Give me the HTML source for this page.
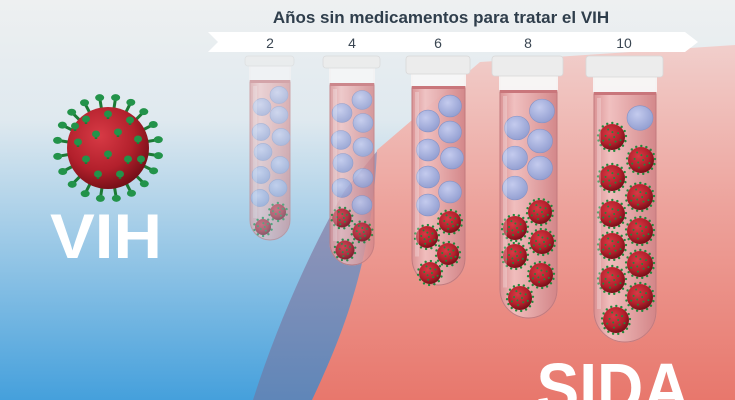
<!DOCTYPE html>
<html><head><meta charset="utf-8"><style>
html,body{margin:0;padding:0;width:735px;height:400px;overflow:hidden}
svg{display:block}
</style></head><body>
<svg id="s" width="735" height="400" viewBox="0 0 735 400" xmlns="http://www.w3.org/2000/svg" overflow="hidden">
<defs>
<linearGradient id="bg" x1="0" y1="0" x2="0" y2="1">
<stop offset="0" stop-color="#eef0f1"/><stop offset="0.3" stop-color="#dfe9ef"/><stop offset="1" stop-color="#45a0dc"/></linearGradient>
<linearGradient id="red" x1="0" y1="0" x2="0" y2="1">
<stop offset="0" stop-color="#f1cfcc"/><stop offset="0.45" stop-color="#eda39c"/><stop offset="1" stop-color="#e8776c"/></linearGradient>
<linearGradient id="pur" x1="0" y1="0" x2="0" y2="1">
<stop offset="0" stop-color="#a59ab8"/><stop offset="1" stop-color="#5f86b8"/></linearGradient>
<radialGradient id="vr" cx="0.4" cy="0.35" r="0.7">
<stop offset="0" stop-color="#d73a45"/><stop offset="0.6" stop-color="#b3202c"/><stop offset="1" stop-color="#6e0d15"/></radialGradient>
<radialGradient id="bl" cx="0.4" cy="0.35" r="0.7">
<stop offset="0" stop-color="#c4cbee"/><stop offset="1" stop-color="#919dd0"/></radialGradient>
<linearGradient id="liq" x1="0" y1="0" x2="1" y2="0">
<stop offset="0" stop-color="#d88c8e" stop-opacity="0.9"/><stop offset="0.25" stop-color="#f0bcbc" stop-opacity="0.85"/><stop offset="1" stop-color="#d07f82" stop-opacity="0.9"/></linearGradient>
</defs>
<rect width="735" height="400" fill="url(#bg)"/>
<path d="M253,400 C275,330 310,250 345,190 L378,150 L360,400 Z" fill="url(#pur)"/>
<path d="M312,400 C345,330 372,260 377,150 L480,62 L735,45 L735,400 Z" fill="url(#red)"/>
<text x="441" y="23" text-anchor="middle" font-family="Liberation Sans, sans-serif" font-weight="bold" font-size="17" fill="#2f3e4c">Años sin medicamentos para tratar el VIH</text>
<polygon points="208,32 685,32 698,42 685,52 208,52 218,42" fill="#ffffff"/>
<g font-family="Liberation Sans, sans-serif" font-size="14" fill="#3a4652" text-anchor="middle">
<text x="270" y="48">2</text><text x="352" y="48">4</text><text x="438" y="48">6</text><text x="528" y="48">8</text><text x="624" y="48">10</text></g>
<g id="tubes"></g>
<g id="big"></g>
<text x="106" y="258" text-anchor="middle" font-family="Liberation Sans, sans-serif" font-weight="bold" font-size="63" fill="#ffffff" textLength="112" lengthAdjust="spacingAndGlyphs">VIH</text>
<text x="613" y="412" text-anchor="middle" font-family="Liberation Sans, sans-serif" font-weight="bold" font-size="70" fill="#ffffff" textLength="153" lengthAdjust="spacingAndGlyphs">SIDA</text>
</svg>
<script>
var NS="http://www.w3.org/2000/svg";
function el(p,t,a){var e=document.createElementNS(NS,t);for(var k in a)e.setAttribute(k,a[k]);p.appendChild(e);return e;}
function virus(g,cx,cy,r){
  var n=Math.round(r*1.3);
  for(var i=0;i<n;i++){var a=i/n*6.283+0.3;el(g,'circle',{cx:cx+Math.cos(a)*(r+1),cy:cy+Math.sin(a)*(r+1),r:1.2,fill:'#1f8a3c'});}
  el(g,'circle',{cx:cx,cy:cy,r:r,fill:'url(#vr)'});
  var m=Math.round(r*0.8);
  for(var j=0;j<m;j++){var a2=j*2.4,d=r*0.75*Math.sqrt((j+0.5)/m);el(g,'circle',{cx:cx+Math.cos(a2)*d,cy:cy+Math.sin(a2)*d,r:1,fill:'#1f8a3c'});}
}
function blue(g,cx,cy,r){el(g,'ellipse',{cx:cx,cy:cy,rx:r,ry:r*0.95,fill:'url(#bl)',stroke:'#8593c6','stroke-width':0.6});}
var T=[
 {x0:250,x1:290,cx0:245,cx1:294,capB:66,neck:82,bot:240,op:0.6,rb:9,rv:8,
  b:[[279,95],[262,107],[279,115],[261,132],[281,137],[263,152],[280,165],[261,175],[278,188],[260,198]],v:[[278,212],[263,227]]},
 {x0:330,x1:374,cx0:323,cx1:380,capB:68,neck:85,bot:265,op:0.85,rb:10,rv:9.5,
  b:[[362,100],[342,113],[363,123],[341,140],[363,147],[343,163],[363,178],[342,188],[362,205]],v:[[342,218],[362,232],[345,250]]},
 {x0:412,x1:465,cx0:406,cx1:470,capB:74,neck:88,bot:285,op:1,rb:11.5,rv:11,
  b:[[450,106],[428,121],[450,132],[428,150],[452,158],[428,177],[450,192],[428,205]],v:[[450,222],[427,237],[448,254],[430,273]]},
 {x0:500,x1:557,cx0:492,cx1:563,capB:76,neck:92,bot:318,op:1,rb:12.5,rv:12,
  b:[[542,111],[517,128],[540,141],[515,158],[540,168],[515,188]],v:[[540,212],[515,228],[542,242],[515,256],[541,275],[520,298]]},
 {x0:594,x1:656,cx0:586,cx1:663,capB:77,neck:94,bot:342,op:1,rb:13,rv:13,
  b:[[640,118]],v:[[612,137],[641,160],[612,178],[640,197],[612,214],[640,231],[612,246],[640,264],[612,280],[640,297],[616,320]]}
];
var tg=document.getElementById('tubes');
T.forEach(function(t){
  var g=el(tg,'g',{opacity:t.op});
  var w=t.x1-t.x0,r=w/2;
  var body='M'+t.x0+','+t.capB+' L'+t.x0+','+(t.bot-r)+' A'+r+','+r+' 0 0 0 '+t.x1+','+(t.bot-r)+' L'+t.x1+','+t.capB+' Z';
  el(g,'path',{d:body,fill:'#f4eeee','fill-opacity':0.5,stroke:'#d9b8b8','stroke-width':1});
  var liq='M'+t.x0+','+t.neck+' L'+t.x0+','+(t.bot-r)+' A'+r+','+r+' 0 0 0 '+t.x1+','+(t.bot-r)+' L'+t.x1+','+t.neck+' Z';
  el(g,'path',{d:liq,fill:'url(#liq)',stroke:'#c27a7e','stroke-width':1});
  el(g,'rect',{x:t.x0,y:t.neck-2,width:w,height:3,fill:'#c9767b'});
  t.b.forEach(function(p){blue(g,p[0],p[1],t.rb);});
  t.v.forEach(function(p){virus(g,p[0],p[1],t.rv);});
  el(g,'rect',{x:t.x0+3,y:t.neck+4,width:4,height:t.bot-t.neck-r-6,fill:'#ffffff','fill-opacity':0.25});
  el(g,'rect',{x:t.x0-1,y:t.capB,width:w+2,height:t.neck-t.capB-2,fill:'#f7f7f7','fill-opacity':0.9});
  el(g,'rect',{x:t.cx0,y:56,width:t.cx1-t.cx0,height:t.capB-56,rx:3,fill:'#ececec',stroke:'#d8d8d8','stroke-width':0.8});
});
var bg=document.getElementById('big');
var cx=108,cy=148,R=41;
for(var i=0;i<20;i++){var a=i/20*6.283+0.15,s=[Math.cos(a),Math.sin(a)];
 el(bg,'line',{x1:cx+s[0]*R*0.9,y1:cy+s[1]*R*0.9,x2:cx+s[0]*(R+9),y2:cy+s[1]*(R+9),stroke:'#1c7a35','stroke-width':3});
 el(bg,'ellipse',{cx:cx+s[0]*(R+10),cy:cy+s[1]*(R+10),rx:4.5,ry:3.5,fill:'#23934a'});}
el(bg,'circle',{cx:cx,cy:cy,r:R,fill:'url(#vr)'});
var inner=[[-22,-25],[0,-30],[22,-24],[-30,-2],[-12,-10],[10,-12],[30,-5],[-22,15],[0,10],[20,15],[-10,30],[12,30],[-33,-18],[33,15]];
inner.forEach(function(p){el(bg,'line',{x1:cx+p[0],y1:cy+p[1]-5,x2:cx+p[0],y2:cy+p[1]+1,stroke:'#1c7a35','stroke-width':2.5});
 el(bg,'ellipse',{cx:cx+p[0],cy:cy+p[1]-4,rx:4,ry:3.5,fill:'#23934a'});});
</script>
</body></html>
